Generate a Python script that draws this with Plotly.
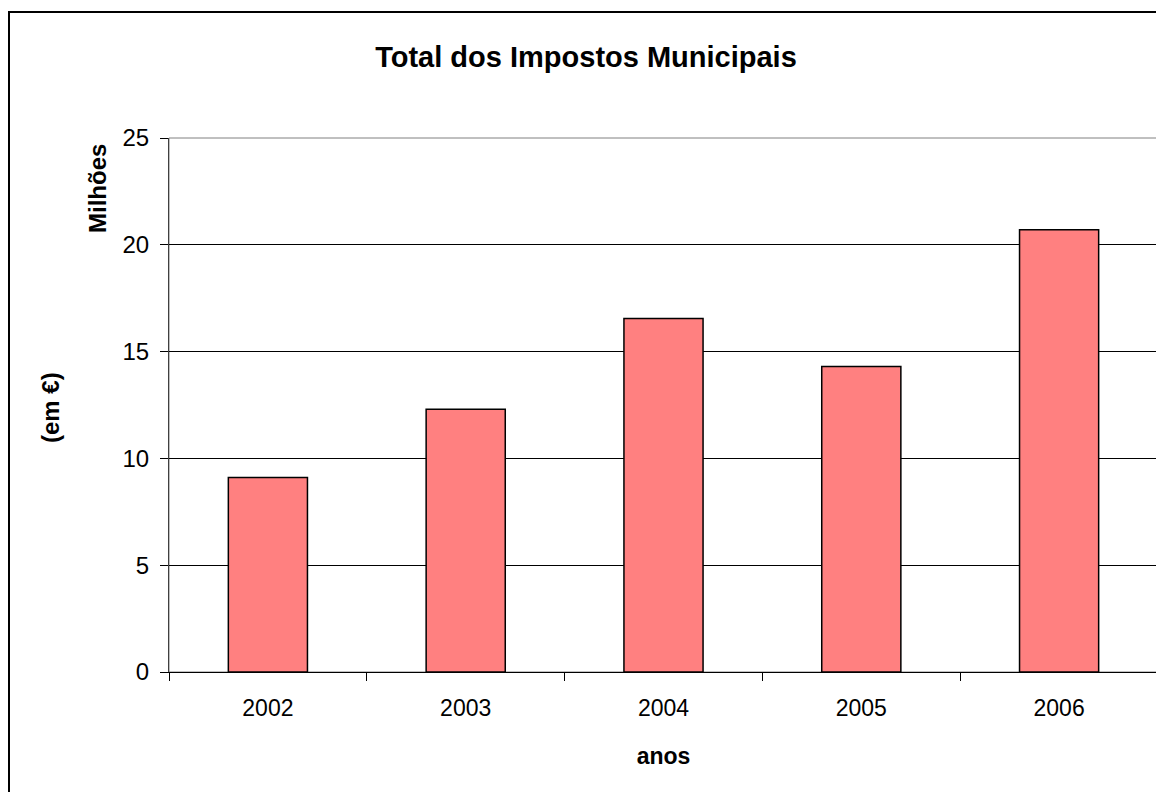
import plotly.graph_objects as go

years = ["2002", "2003", "2004", "2005", "2006"]
values = [9.1, 12.3, 16.55, 14.3, 20.7]
y_ticks = [0, 5, 10, 15, 20, 25]

OFF = 8  # page body margin
W, H = 1164 - OFF, 792 - OFF
# plot area in page pixels: x 169..1158, y 138..672
ML = 169 - OFF
MR = W - (1158 - OFF)
MT = 138 - OFF
MB = H - (672 - OFF)
pw = W - ML - MR
ph = H - MT - MB

def px_x(px):
    return (px - OFF - ML) / pw

def px_y(py):
    return (H - MB - (py - OFF)) / ph

fig = go.Figure()
fig.add_trace(go.Bar(
    x=years, y=values, width=0.4,
    marker=dict(color="#FF8080", line=dict(color="black", width=1.5)),
))

font = "Liberation Sans, Arial, sans-serif"
fig.update_layout(
    width=W, height=H,
    margin=dict(l=ML, r=MR, t=MT, b=MB),
    paper_bgcolor="white", plot_bgcolor="white",
    showlegend=False,
    font=dict(family=font, size=24, color="black"),
    title=dict(text="<b>Total dos Impostos Municipais</b>", x=0.5, xanchor="center",
               y=1 - (57 - OFF) / H, yanchor="middle", font=dict(size=29, family=font)),
    xaxis=dict(
        type="category", tickson="boundaries", ticks="outside", ticklen=8,
        tickcolor="black", showline=True, linecolor="black", linewidth=1,
        showgrid=False, tickfont=dict(size=23), ticklabelstandoff=15,
        title=dict(text="<b>anos</b>", font=dict(size=23), standoff=28),
    ),
    yaxis=dict(
        range=[0, 25], tickvals=y_ticks, ticks="outside", ticklen=8,
        tickcolor="black", showline=True, linecolor="#404040", linewidth=1,
        showgrid=True, gridcolor="black", gridwidth=1, zeroline=False,
        tickfont=dict(size=24), ticklabelstandoff=6,
    ),
)

# plot area border (gray)
fig.add_shape(type="rect", xref="paper", yref="paper", x0=0, y0=0, x1=1, y1=1,
              line=dict(color="#808080", width=1), layer="below")
# outer chart frame
fig.add_shape(type="rect", xref="paper", yref="paper",
              x0=px_x(9), y0=px_y(810), x1=px_x(1185), y1=px_y(12),
              line=dict(color="black", width=2))

fig.add_annotation(text="<b>Milhões</b>", xref="paper", yref="paper",
                   x=px_x(97), y=px_y(189), textangle=-90,
                   xanchor="center", yanchor="middle",
                   showarrow=False, font=dict(size=24, family=font))
fig.add_annotation(text="<b>(em €)</b>", xref="paper", yref="paper",
                   x=px_x(50), y=px_y(408), textangle=-90,
                   xanchor="center", yanchor="middle",
                   showarrow=False, font=dict(size=24, family=font))

fig.write_html("out.html")
